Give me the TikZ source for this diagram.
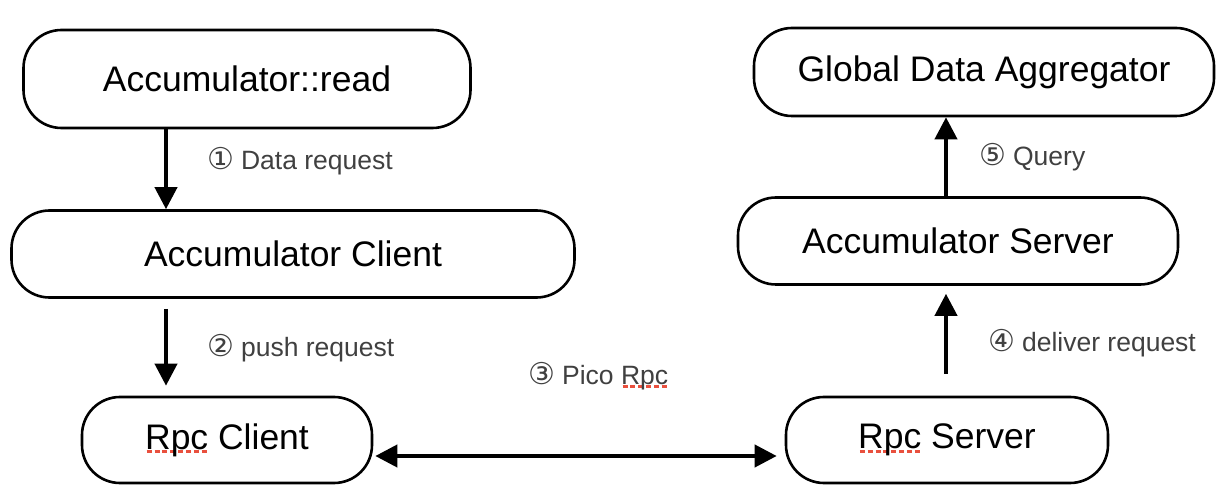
\documentclass[tikz,border=0pt]{standalone}
\usepackage{fontspec}
\setmainfont{Liberation Sans}
\newfontfamily\symfont{DejaVu Sans}
\usetikzlibrary{arrows.meta}
\definecolor{lbl}{HTML}{404040}
\definecolor{spell}{HTML}{E9503E}
\newsavebox\splbox
\newcommand\spellul[1]{\sbox\splbox{#1}\rlap{\raisebox{-4pt}{\textcolor{spell}{\xleaders\hbox to 7.5pt{\hfil\rule{5pt}{3pt}\hfil}\hskip\wd\splbox}}}\usebox\splbox}
\newcommand\circnum[1]{{\symfont\fontsize{30}{30}\selectfont #1}\hspace{7pt}}
\begin{document}
\begin{tikzpicture}[x=1pt,y=-1pt,
  box/.style={draw,line width=2.6pt,rounded corners=38pt,inner sep=0pt,
    font=\fontsize{35.5}{42}\selectfont},
  lab/.style={anchor=west,inner sep=0pt,text=lbl,font=\fontsize{26.5}{30}\selectfont},
  arr/.style={line width=4pt,-{Triangle[length=22pt,width=22pt]}},
  darr/.style={line width=4pt,{Triangle[length=22pt,width=22pt]}-{Triangle[length=22pt,width=22pt]}}]
\useasboundingbox (0,0) rectangle (1232,494);
\node[box,minimum width=447pt,minimum height=98pt] (n1) at (247,79) {Accumulator::read};
\node[box,minimum width=563pt,minimum height=87pt] (n2) at (293,254) {Accumulator Client};
\node[box,minimum width=290pt,minimum height=86pt] (n3) at (227,440) {\spellul{Rpc} Client};
\node[box,minimum width=322pt,minimum height=86pt] (n4) at (947,440) {\spellul{Rpc} Server};
\node[box,minimum width=440pt,minimum height=87pt] (n5) at (958,241) {Accumulator Server};
\node[box,minimum width=460pt,minimum height=88pt] (n6) at (984,72) {Global Data Aggregator};
\coordinate (xl) at (166,0);
\coordinate (xr) at (946,0);
\coordinate (yb) at (0,456);
\draw[arr] (n1.south -| xl) -- (n2.north -| xl);
\draw[arr] ([yshift=-10pt]n2.south -| xl) -- ([yshift=10pt]n3.north -| xl);
\draw[darr] ([xshift=2pt]n3.east |- yb) -- ([xshift=-8pt]n4.west |- yb);
\draw[arr] ([yshift=22pt]n4.north -| xr) -- ([yshift=-8pt]n5.south -| xr);
\draw[arr] (n5.north -| xr) -- (n6.south -| xr);
\node[lab] (l1) at (207,161) {\circnum{①}Data request};
\node[lab] (l2) at (207,348) {\circnum{②}push request};
\node[lab] (l3) at (528,376) {\circnum{③}Pico \spellul{Rpc}};
\node[lab] (l4) at (988,343) {\circnum{④}deliver request};
\node[lab] (l5) at (979,157) {\circnum{⑤}Query};
\end{tikzpicture}
\end{document}
